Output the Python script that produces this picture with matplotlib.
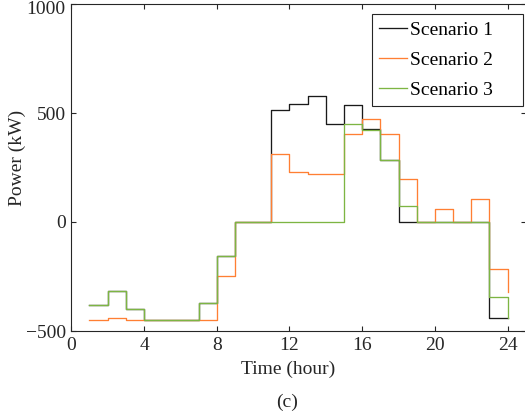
import matplotlib
matplotlib.use("Agg")
import matplotlib.pyplot as plt
import matplotlib.transforms as mtransforms
import numpy as np

# Hourly power profiles (value holds from hour h to h+1)
hours = list(range(1, 25))
scenario1 = [-380, -315, -400, -450, -450, -450, -370, -155, 0, 0,
             515, 543, 576, 448, 538, 425, 283, 0, 0, 0,
             0, 0, -440, -440]
scenario2 = [-450, -441, -450, -450, -450, -450, -450, -247, 0, 0,
             313, 229, 222, 222, 402, 471, 405, 196, 0, 61,
             0, 104, -214, -321]
scenario3 = [-380, -315, -400, -450, -450, -450, -370, -155, 0, 0,
             0, 0, 0, 0, 449, 420, 283, 72, 0, 0,
             0, 0, -345, -440]

labels = ["Scenario 1", "Scenario 2", "Scenario 3"]
colors = ["#1a1a1a", "#ff7f33", "#7db543"]

xticks = [0, 4, 8, 12, 16, 20, 24]
yticks = [-500, 0, 500, 1000]

plt.rcParams["font.family"] = ["Liberation Serif", "DejaVu Serif"]
plt.rcParams["font.size"] = 14

W, H = 525, 413
fig = plt.figure(figsize=(W / 100, H / 100), dpi=100)
left, right, top, bottom = 71.3, 525.8, 4, 331
ax = fig.add_axes([left / W, 1 - bottom / H, (right - left) / W, (bottom - top) / H])

for vals, lab, col in zip([scenario1, scenario2, scenario3], labels, colors):
    ax.plot(hours, vals, drawstyle="steps-post", color=col, lw=0.95, label=lab)

ax.set_xlim(0, 25)
ax.set_ylim(-500, 1000)
ax.set_xticks(xticks)
ax.set_yticks(yticks)
ax.tick_params(direction="in", length=3.6, width=0.8, top=True, right=True,
               colors="#262626", labelsize=14, pad=4)
for sp in ax.spines.values():
    sp.set_color("#262626")
    sp.set_linewidth(0.8)

ax.set_xlabel("Time (hour)", fontsize=14, color="#262626")
ax.set_ylabel("Power (kW)", fontsize=14, color="#262626")
ax.xaxis.set_label_coords(0.478, -0.090)
ax.yaxis.set_label_coords(-0.0997, 0.5306)

fig.text(286.7 / W, 1 - 406.7 / H, "(c)", ha="center", va="baseline",
         fontsize=14, color="#262626")

lx0, lx1, ly0, ly1 = 372.3, 523.3, 14, 106
leg = ax.legend(loc="upper left", mode="expand",
                bbox_to_anchor=(lx0 / W, 1 - ly1 / H, (lx1 - lx0) / W, (ly1 - ly0) / H),
                bbox_transform=fig.transFigure, borderaxespad=0,
                fancybox=False, framealpha=1, edgecolor="#262626",
                handlelength=1.4, handletextpad=0.15, borderpad=0.37,
                labelspacing=0.63, fontsize=14)
leg.get_frame().set_linewidth(0.8)

# keep the topmost y tick label inside the canvas
fig.canvas.draw()
top_tick = ax.yaxis.get_major_ticks()[-1]
top_tick.label1.set_transform(top_tick.label1.get_transform()
                              + mtransforms.ScaledTranslation(0, -4 / 100, fig.dpi_scale_trans))

fig.savefig("out.png", dpi=100)
